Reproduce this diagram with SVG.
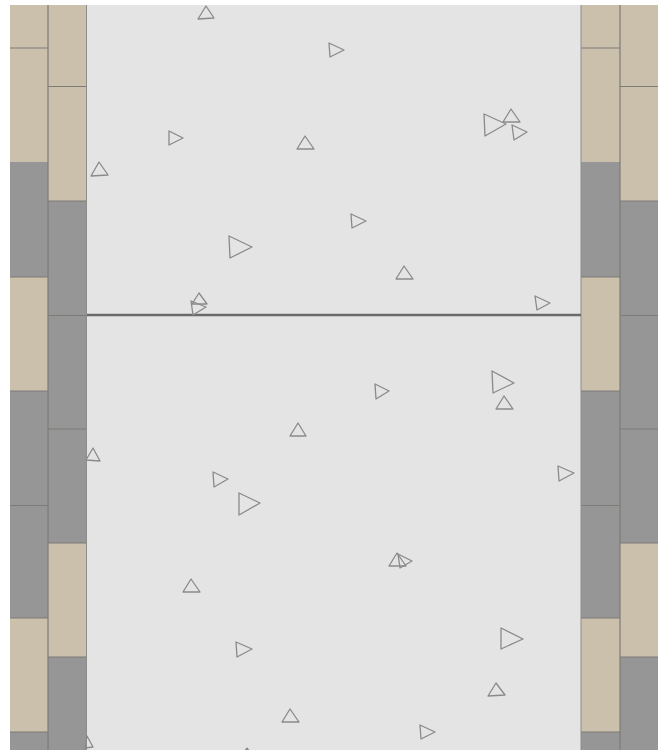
<svg xmlns="http://www.w3.org/2000/svg" width="662" height="750" viewBox="0 0 662 750">
<style>
.t{fill:#cbc0ac}
.g{fill:#979697}
.s{fill:none;stroke:#7e7b76;stroke-width:1.2}
.a{fill:none;stroke:#8a8a8a;stroke-width:1.3;stroke-linejoin:round}
</style>
<rect width="662" height="750" fill="#ffffff"/>
<rect id="floor" x="87" y="5" width="494" height="745" fill="#e4e4e4"/>
<g id="wall-left">
<rect class="t" x="10" y="5" width="38" height="157"/>
<rect class="g" x="10" y="162" width="38" height="115"/>
<rect class="t" x="10" y="277" width="38" height="114"/>
<rect class="g" x="10" y="391" width="38" height="227"/>
<rect class="t" x="10" y="618" width="38" height="114"/>
<rect class="g" x="10" y="732" width="38" height="18"/>
<rect class="t" x="48" y="5" width="39" height="196"/>
<rect class="g" x="48" y="201" width="39" height="342"/>
<rect class="t" x="48" y="543" width="39" height="114"/>
<rect class="g" x="48" y="657" width="39" height="93"/>
<path class="s" d="M10 48H48M10 277H48M10 391H48M10 505.500H48M10 618H48M10 732H48M48 86.500H87M48 201H87M48 315.500H87M48 429H87M48 543H87M48 657H87M48 5V750"/>
</g>
<g id="wall-right">
<rect class="t" x="581" y="5" width="39" height="157"/>
<rect class="g" x="581" y="162" width="39" height="115"/>
<rect class="t" x="581" y="277" width="39" height="114"/>
<rect class="g" x="581" y="391" width="39" height="227"/>
<rect class="t" x="581" y="618" width="39" height="114"/>
<rect class="g" x="581" y="732" width="39" height="18"/>
<rect class="t" x="620" y="5" width="38" height="196"/>
<rect class="g" x="620" y="201" width="38" height="342"/>
<rect class="t" x="620" y="543" width="38" height="114"/>
<rect class="g" x="620" y="657" width="38" height="93"/>
<path class="s" d="M581 48H620M581 277H620M581 391H620M581 505.500H620M581 618H620M581 732H620M620 86.500H658M620 201H658M620 315.500H658M620 429H658M620 543H658M620 657H658M620 5V750"/>
</g>
<path d="M86.500 5V750M581 5V750" fill="none" stroke="#8d8c8a" stroke-width="1"/>
<path id="divider" d="M87 315H581" fill="none" stroke="#6a6a6a" stroke-width="2.500"/>
<g id="markers" class="a">
<path d="M206 6L198 19L214 18Z"/>
<path d="M329 43L344 50L330 57Z"/>
<path d="M169 131L183 138L169 145Z"/>
<path d="M305 136L297 149L314 149Z"/>
<path d="M99 162L91 176L108 175Z"/>
<path d="M484 114L506 124L485 136Z"/>
<path d="M511 109L503 122L520 122Z"/>
<path d="M512 125L527 132L514 140Z"/>
<path d="M351 214L366 221L352 228Z"/>
<path d="M229 236L252 247L230 258Z"/>
<path d="M404 266L396 279L413 279Z"/>
<path d="M199 293L192 304L207 304Z"/>
<path d="M191 301L206 307L193 315Z"/>
<path d="M535 296L550 303L537 310Z"/>
<path d="M375 384L389 391L376 399Z"/>
<path d="M492 371L514 383L493 393Z"/>
<path d="M504 396L496 409L513 409Z"/>
<path d="M298 423L290 436L306 436Z"/>
<path d="M93 448L86 460L100 461Z"/>
<path d="M213 472L228 479L214 487Z"/>
<path d="M239 493L260 503L239 515Z"/>
<path d="M558 466L574 473L559 481Z"/>
<path d="M397 553L389 566L406 566Z"/>
<path d="M398 554L412 561L400 568Z"/>
<path d="M191 579L183 592L200 592Z"/>
<path d="M236 642L252 649L237 657Z"/>
<path d="M501 628L523 639L501 649Z"/>
<path d="M496 683L488 696L505 695Z"/>
<path d="M290 709L282 722L299 722Z"/>
<path d="M420 725L435 732L421 739Z"/>
<path d="M87 736L85 748L93 747Z"/>
<path d="M247 748L242 755M247 748L252 755"/>
</g>
</svg>
